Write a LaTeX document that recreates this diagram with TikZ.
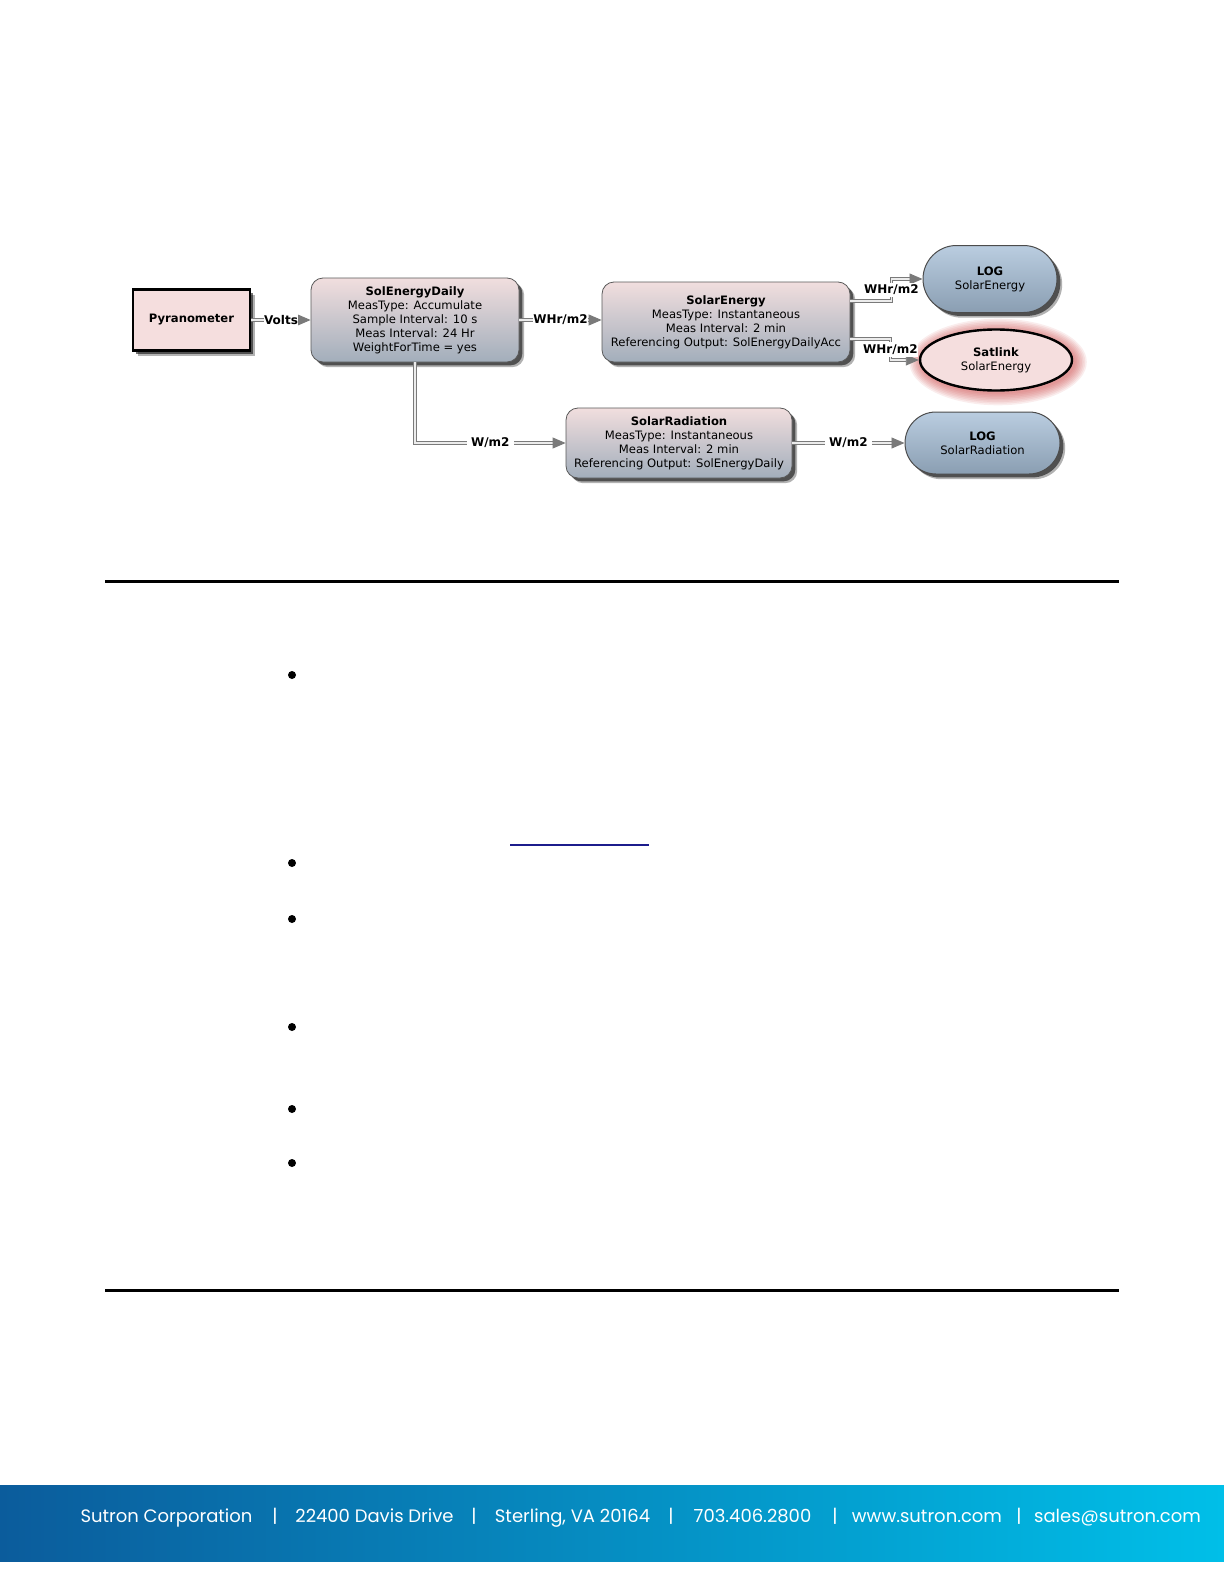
\documentclass[tikz,border=0pt]{standalone}
\usepackage{fontspec}
\usepackage{tikz}
\usetikzlibrary{arrows.meta,shapes.geometric,shapes.misc,shadows,backgrounds}
\newfontfamily\dgfont{DejaVu Sans}
\newfontfamily\ftfont{Poppins}
\definecolor{dgpink}{HTML}{F1DEDE}
\definecolor{dgslate}{HTML}{A2AEBB}
\definecolor{dgsky}{HTML}{BACDE0}
\definecolor{dgsteel}{HTML}{8A9EB2}
\definecolor{dgrose}{HTML}{F5DEDE}
\definecolor{dgglow}{HTML}{C83C3C}
\definecolor{dgwire}{HTML}{7A7A7A}
\definecolor{ftdeep}{HTML}{0B5C9C}
\definecolor{ftmid}{HTML}{0798CA}
\definecolor{ftcyan}{HTML}{00BFE8}
\definecolor{lnknavy}{HTML}{1C1C8C}
\tikzset{
  dgtext/.style={font=\dgfont\fontsize{5.8}{7}\selectfont,align=center,inner sep=0pt},
  softshadow/.style={drop shadow={shadow xshift=2.6pt,shadow yshift=-2.6pt,fill=black,opacity=.3},
    drop shadow={shadow xshift=1.7pt,shadow yshift=-1.7pt,fill=black,opacity=.55}},
  measbox/.style={dgtext,rectangle,rounded corners=6pt,draw=gray!70!black,line width=.4pt,
    top color=dgpink,bottom color=dgslate,softshadow},
  logbox/.style={dgtext,rounded rectangle,draw=black!70,line width=.5pt,
    top color=dgsky,bottom color=dgsteel,softshadow},
  pyrbox/.style={dgtext,rectangle,draw=black,line width=1.4pt,fill=dgrose,softshadow},
  satnode/.style={dgtext,ellipse,draw=black,line width=1.2pt,fill=dgrose},
  wire/.style={draw=dgwire,line width=.45pt,double=gray!15,double distance=.7pt,
    -{Triangle[length=6.5pt,width=5.5pt,fill=dgwire]}},
  wlabel/.style={font=\dgfont\bfseries\fontsize{6}{7}\selectfont,fill=white,inner xsep=2pt,inner ysep=1pt},
  fttext/.style={font=\ftfont\fontsize{9}{10}\selectfont,text=white,inner sep=0pt,anchor=base}
}
\begin{document}
\begin{tikzpicture}[x=.5pt,y=-.5pt]
  \useasboundingbox (0,0) rectangle (1224,1584);
  % diagram
  \node[pyrbox,minimum width=58.5pt,minimum height=30.5pt] (pyr) at (191.5,320) {\textbf{Pyranometer}};
  \node[measbox,minimum width=104pt,minimum height=42pt] (sed) at (415,320)
    {\textbf{SolEnergyDaily}\\MeasType: Accumulate\\Sample Interval: 10 s\\Meas Interval: 24 Hr\\WeightForTime = yes};
  \node[measbox,minimum width=124pt,minimum height=40pt] (se) at (726,322)
    {\textbf{SolarEnergy}\\MeasType: Instantaneous\\Meas Interval: 2 min\\Referencing Output: SolEnergyDailyAcc};
  \node[measbox,minimum width=113pt,minimum height=35pt] (srad) at (679,443)
    {\textbf{SolarRadiation}\\MeasType: Instantaneous\\Meas Interval: 2 min\\Referencing Output: SolEnergyDaily};
  \node[logbox,minimum width=67pt,minimum height=33.5pt] (lse) at (990,279) {\textbf{LOG}\\SolarEnergy};
  \node[logbox,minimum width=77.5pt,minimum height=31pt] (lsr) at (982.5,443) {\textbf{LOG}\\SolarRadiation};
  \node[satnode,minimum width=76pt,minimum height=30.5pt] (sat) at (996,360) {\textbf{Satlink}\\SolarEnergy};
  \begin{scope}[on background layer]
    \foreach \g in {1,...,8}{\fill[dgglow,opacity=.09] ([xshift=1pt,yshift=-1pt]sat.center)
      ellipse [x radius={38pt+.8pt*\g},y radius={15.25pt+.8pt*\g}];}
  \end{scope}
  \draw[wire] (pyr.east) -- node[wlabel,inner xsep=0pt]{Volts} (pyr.east -| sed.west);
  \draw[wire] (sed.east) -- node[wlabel,inner xsep=0pt]{WHr/m2} (sed.east -| se.west);
  \draw[wire] ([yshift=10.5pt]se.east) -- ++(41,0) |- node[wlabel,pos=.25,inner xsep=0pt]{WHr/m2} (lse.west);
  \draw[wire] ([yshift=-8.5pt]se.east) -- ++(40,0) |- node[wlabel,pos=.25,inner xsep=0pt]{WHr/m2} (sat.west);
  \draw[wire] (sed.south) |- node[wlabel,pos=.75]{W/m2} (srad.west);
  \draw[wire] (srad.east) -- node[wlabel]{W/m2} (srad.east -| lsr.west);
  % page marks
  \draw[line width=1.5pt] (105,581) -- (1119,581);
  \draw[line width=1.5pt] (105,1290) -- (1119,1290);
  \foreach \b in {675,863,919,1027,1109,1163}{\fill (292,\b) circle (2pt);}
  \draw[lnknavy,line width=.6pt] (510,845) -- (649,845);
  % footer
  \shade[left color=ftdeep,middle color=ftmid,right color=ftcyan] (0,1485) rectangle (1224,1561);
  \foreach \x/\t [count=\i] in {166.5/Sutron Corporation,275/|,374.5/22400 Davis Drive,474/|,
    572.5/{Sterling, VA 20164},671/|,752.5/703.406.2800,835/|,927/www.sutron.com,1019/|,1117.5/sales@sutron.com}
    {\node[fttext] (ft\i) at (\x,1522) {\t};}
\end{tikzpicture}
\end{document}
